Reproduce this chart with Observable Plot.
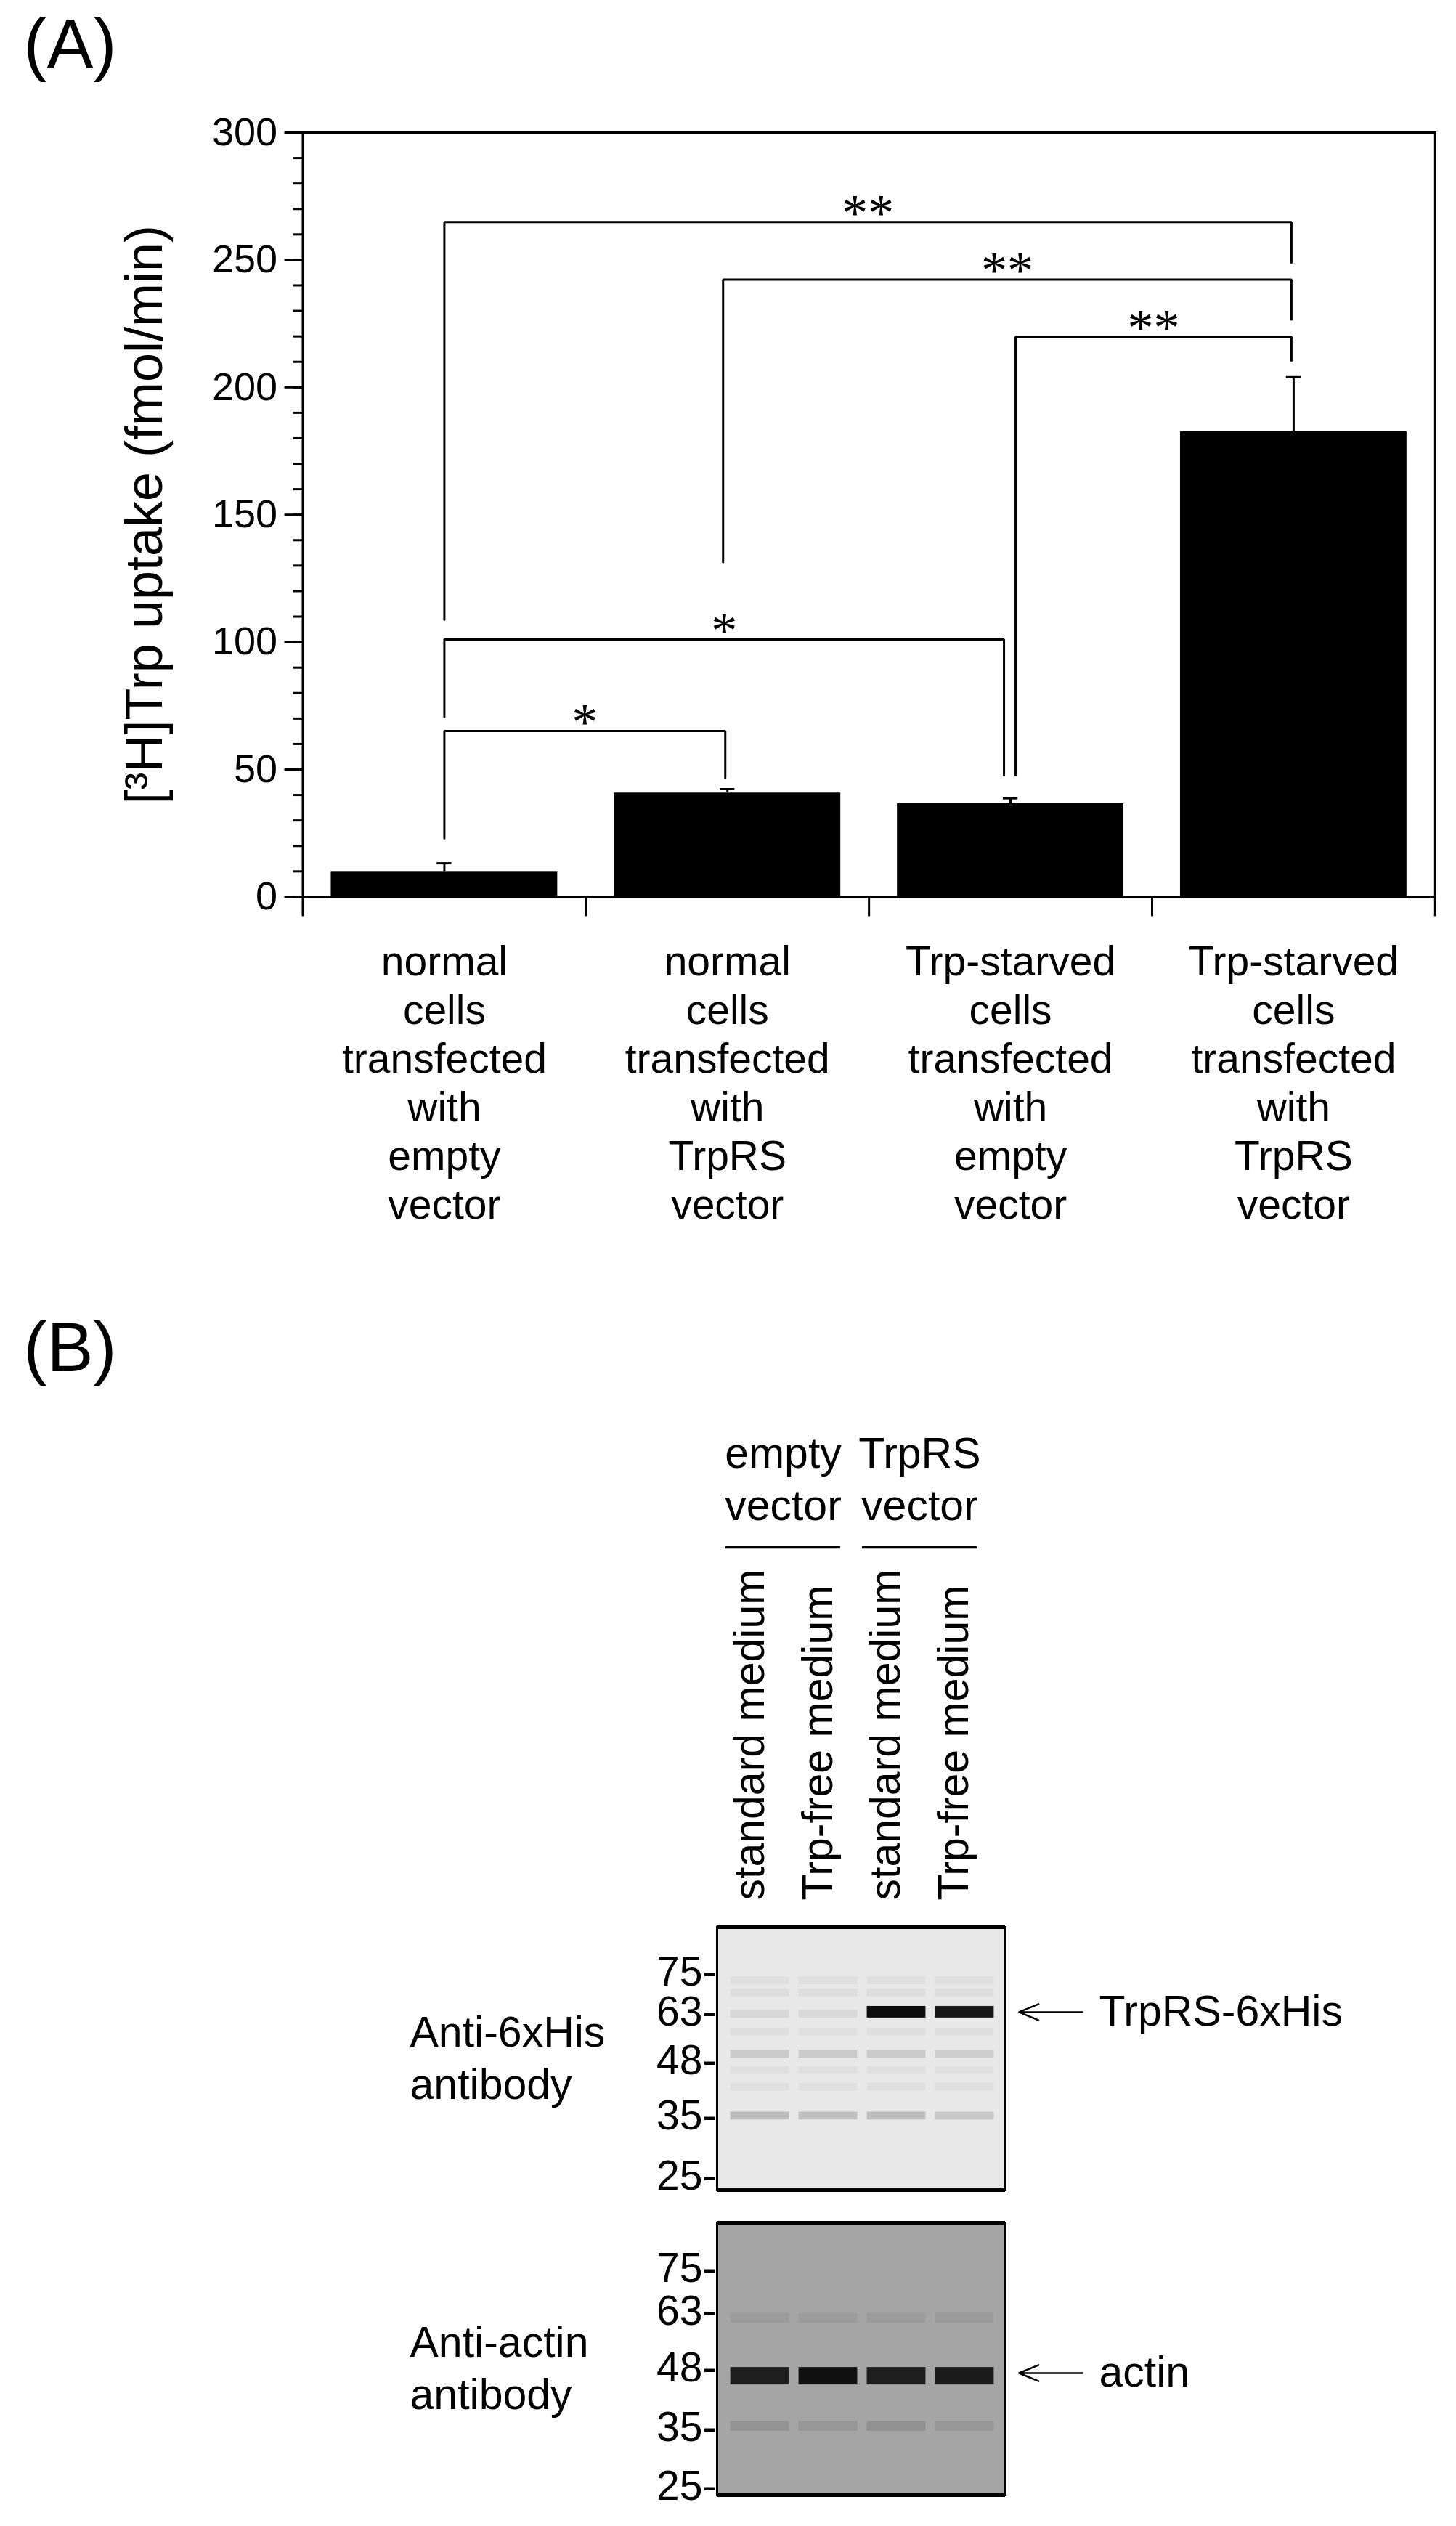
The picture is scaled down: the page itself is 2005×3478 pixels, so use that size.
<!DOCTYPE html>
<html>
<head>
<meta charset="utf-8">
<script src="https://cdn.jsdelivr.net/npm/d3@7"></script>
<script src="https://cdn.jsdelivr.net/npm/@observablehq/plot@0.6"></script>
<style>
  html, body { margin: 0; padding: 0; background: #fff; }
  #page { position: relative; width: 2005px; height: 3478px; background: #fff; overflow: hidden; }
  #page svg { position: absolute; left: 0; }
</style>
</head>
<body>
<div id="page"></div>
<script>
// ---------------- DATA ----------------
// Panel A
const categories = [
  "normal\ncells\ntransfected\nwith\nempty\nvector",
  "normal\ncells\ntransfected\nwith\nTrpRS\nvector",
  "Trp-starved\ncells\ntransfected\nwith\nempty\nvector",
  "Trp-starved\ncells\ntransfected\nwith\nTrpRS\nvector"
];
const uptake = [10.0, 40.8, 36.6, 182.6];      // fmol/min
const uptakeSE = [3.2, 1.5, 2.1, 21.4];
const yTicks = [0, 50, 100, 150, 200, 250, 300];
const yMinorTicks = d3.range(0, 301, 10);
const yLabel = "[³H]Trp uptake (fmol/min)";

// significance brackets (category indices, heights in fmol/min)
const bracketFrom    = [0, 0, 0, 1, 2];
const bracketTo      = [1, 2, 3, 3, 3];
const bracketTop     = [65.1, 101.0, 264.9, 242.3, 219.8];
const bracketFromEnd = [23.0, 70.7, 108.8, 131.4, 47.7];
const bracketToEnd   = [46.7, 47.7, 249.0, 226.6, 210.5];
const bracketLabel   = ["*", "*", "**", "**", "**"];

// Panel B
const laneLabels = ["standard medium", "Trp-free medium", "standard medium", "Trp-free medium"];
const vectorGroups = ["empty\nvector", "TrpRS\nvector"];
const groupLanes = [[0, 1], [2, 3]];
const markerKDa = [75, 63, 48, 35, 25];
const hisMarkerRf = [0.171, 0.323, 0.508, 0.718, 0.948];   // relative migration in blot
const actinMarkerRf = [0.168, 0.325, 0.533, 0.752, 0.968];
// bands: [lane, relative migration, density]
const hisBands = [
  [2, 0.323, 0.95], [3, 0.323, 0.9],
  [0, 0.331, 0.07], [1, 0.331, 0.06],
  [0, 0.718, 0.18], [1, 0.718, 0.17], [2, 0.718, 0.18], [3, 0.718, 0.14],
  [0, 0.483, 0.13], [1, 0.483, 0.12], [2, 0.483, 0.13], [3, 0.483, 0.11],
  [0, 0.204, 0.03], [1, 0.204, 0.035], [2, 0.204, 0.035], [3, 0.204, 0.03],
  [0, 0.249, 0.04], [1, 0.249, 0.04], [2, 0.249, 0.045], [3, 0.249, 0.04],
  [0, 0.398, 0.035], [1, 0.398, 0.03], [2, 0.398, 0.035], [3, 0.398, 0.035],
  [0, 0.544, 0.035], [1, 0.544, 0.03], [2, 0.544, 0.035], [3, 0.544, 0.03],
  [0, 0.608, 0.03], [1, 0.608, 0.03], [2, 0.608, 0.035], [3, 0.608, 0.035]
];
const actinBands = [
  [0, 0.563, 0.82], [1, 0.563, 0.9], [2, 0.563, 0.82], [3, 0.563, 0.84],
  [0, 0.747, 0.10], [1, 0.747, 0.08], [2, 0.747, 0.11], [3, 0.747, 0.08],
  [0, 0.350, 0.05], [1, 0.350, 0.05], [2, 0.350, 0.05], [3, 0.350, 0.06]
];
const hisArrowRf = 0.323, actinArrowRf = 0.552;
const hisArrowLabel = "TrpRS-6xHis", actinArrowLabel = "actin";

// ---------------- LAYOUT / STYLE ----------------
const FONT = '"Liberation Sans", Arial, Helvetica, sans-serif';
const W = 2005;
const page = document.getElementById("page");

// ---------------- PANEL A ----------------
const mL = 416.5, mR = 29.2, mT = 182, hA = 1760, mB = hA - 1234.4;
const frameW = W - mL - mR, frameH = hA - mT - mB;
const step = frameW / categories.length;
const rows = categories.map((c, i) => ({i, cat: c, v: uptake[i], e: uptakeSE[i]}));
// small horizontal nudges (px) to keep neighbouring bracket legs apart
const nudge = {"0:to": -3, "1:to": -9, "2:to": -3, "3:from": -6, "3:to": -3, "4:from": 7, "4:to": -3};
const brackets = bracketLabel.map((lab, k) => {
  const xf = bracketFrom[k] + 0.5 + (nudge[k + ":from"] || 0) / step;
  const xt = bracketTo[k] + 0.5 + (nudge[k + ":to"] || 0) / step;
  return {k, lab, xf, xt, top: bracketTop[k], fe: bracketFromEnd[k], te: bracketToEnd[k]};
});
const bracketPts = brackets.flatMap(b => [
  {k: b.k, x: b.xf, y: b.fe}, {k: b.k, x: b.xf, y: b.top},
  {k: b.k, x: b.xt, y: b.top}, {k: b.k, x: b.xt, y: b.te}
]);
const categoryBounds = d3.range(categories.length + 1);

const plotA = Plot.plot({
  width: W, height: hA,
  marginLeft: mL, marginRight: mR, marginTop: mT, marginBottom: mB,
  style: {fontFamily: FONT, background: "transparent", overflow: "visible", color: "black"},
  x: {domain: [0, categories.length], axis: null},
  y: {domain: [0, 300], axis: null},
  marks: [
    Plot.rectY(rows, {x1: d => d.i + 0.1, x2: d => d.i + 0.9, y: "v", fill: "black"}),
    Plot.ruleX(rows, {x: d => d.i + 0.5, y1: "v", y2: d => d.v + d.e, stroke: "black", strokeWidth: 3}),
    Plot.ruleY(rows, {y: d => d.v + d.e, x1: d => d.i + 0.5 - 0.026, x2: d => d.i + 0.5 + 0.026, stroke: "black", strokeWidth: 3}),
    Plot.line(bracketPts, {x: "x", y: "y", z: "k", stroke: "black", strokeWidth: 3, strokeLinejoin: "miter", curve: "linear"}),
    Plot.text(brackets, {x: d => (d.xf + d.xt) / 2, y: "top", text: "lab", fontFamily: '"Liberation Serif", "Times New Roman", serif', fontSize: 72, lineAnchor: "middle", dy: -12}),
    Plot.frame({stroke: "black", strokeWidth: 3}),
    // minor y ticks (outside, to the left of the frame)
    Plot.ruleY(yMinorTicks, {y: d => d, insetLeft: -13, insetRight: frameW, stroke: "black", strokeWidth: 3}),
    // major y ticks + labels
    Plot.axisY({ticks: yTicks, tickSize: 25, tickPadding: 10, fontSize: 54, strokeWidth: 3, label: null}),
    // x ticks at the category boundaries (below the frame)
    Plot.ruleX(categoryBounds, {x: d => d, insetTop: frameH, insetBottom: -27, stroke: "black", strokeWidth: 3}),
    Plot.text(rows, {x: d => d.i + 0.5, text: "cat", frameAnchor: "bottom", dy: 1677 - 1234.4, lineAnchor: "bottom", lineHeight: 67 / 57, fontSize: 57}),
    Plot.text([yLabel], {frameAnchor: "left", dx: 199 - mL, rotate: -90, fontSize: 72, textAnchor: "middle", lineAnchor: "middle"}),
    Plot.text(["(A)"], {frameAnchor: "top-left", dx: 32 - mL, dy: 92 - mT, fontSize: 96, textAnchor: "start", lineAnchor: "bottom"})
  ]
});
plotA.style.top = "0px";
page.appendChild(plotA);

// ---------------- PANEL B ----------------
const boxL = 987, boxR = 1384;
const laneDomain = [-0.128, 4.096];
const lanes = laneLabels.map((t, i) => ({i, t}));
const groups = vectorGroups.map((t, g) => ({t, x1: groupLanes[g][0], x2: groupLanes[g][1] + 1 - 0.32}));
const bandRows = (arr, strongH, faintH) => arr.map(([lane, rf, a]) => ({lane, rf, a, h: a > 0.5 ? strongH : faintH}));
let filterCount = 0;

function blot({top, height, boxTop, boxBottom, bg, markerRf, bands, leftLabel, leftLabelLastBaseline, arrowRf, arrowLabel, strongH, faintH, blurStrong, blurFaint, extra}) {
  const marginTop = boxTop - top, marginBottom = top + height - boxBottom;
  const frameMid = (boxTop + boxBottom) / 2;
  const markers = markerKDa.map((k, i) => ({k, rf: markerRf[i]}));
  const b = bandRows(bands, strongH, faintH);
  const bandMark = (data, label) => Plot.rect(data, {
    x1: d => d.lane + 0.5 - 0.43, x2: d => d.lane + 0.5 + 0.43,
    y1: d => d.rf - d.h, y2: d => d.rf + d.h,
    fill: "black", fillOpacity: "a", ariaLabel: label
  });
  const p = Plot.plot({
    width: W, height,
    marginLeft: boxL, marginRight: W - boxR, marginTop, marginBottom,
    style: {fontFamily: FONT, background: "transparent", overflow: "visible", color: "black"},
    x: {domain: laneDomain, axis: null},
    y: {domain: [0, 1], reverse: true, axis: null},
    marks: [
      Plot.frame({fill: bg, stroke: null}),
      bandMark(b.filter(d => d.a <= 0.5), "faint-bands"),
      bandMark(b.filter(d => d.a > 0.5), "strong-bands"),
      Plot.frame({stroke: "black", strokeWidth: 3}),
      Plot.ruleY([0, 1], {stroke: "black", strokeWidth: 5}),
      Plot.text(markers, {y: "rf", text: d => d.k + "-", frameAnchor: "left", textAnchor: "end", lineAnchor: "middle", dx: -1, fontSize: 57}),
      Plot.text([leftLabel], {frameAnchor: "left", dx: 564 - boxL, dy: leftLabelLastBaseline - frameMid, textAnchor: "start", lineAnchor: "bottom", lineHeight: 72 / 59, fontSize: 59}),
      Plot.arrow([arrowRf], {x1: laneDomain[1] + 1.128, x2: laneDomain[1] + 0.2, y1: d => d, y2: d => d, stroke: "black", strokeWidth: 2.5, headAngle: 45, headLength: 20}),
      Plot.text([arrowRf], {y: d => d, text: () => arrowLabel, frameAnchor: "right", dx: 1513 - boxR, textAnchor: "start", lineAnchor: "middle", fontSize: 59}),
      ...(extra || [])
    ]
  });
  // soft, diffuse band edges via SVG Gaussian blur filters
  const sel = d3.select(p);
  const defs = sel.insert("defs", ":first-child");
  const addBlur = (sd) => {
    const id = "bandblur" + (filterCount++);
    defs.append("filter").attr("id", id)
      .attr("x", "-10%").attr("y", "-150%").attr("width", "120%").attr("height", "400%")
      .append("feGaussianBlur").attr("stdDeviation", sd);
    return `url(#${id})`;
  };
  const fFaint = addBlur(blurFaint), fStrong = addBlur(blurStrong);
  sel.selectAll('g[aria-label="faint-bands"]').attr("filter", fFaint);
  sel.selectAll('g[aria-label="strong-bands"]').attr("filter", fStrong);
  p.style.top = top + "px";
  page.appendChild(p);
  return p;
}

const top1 = 1760, box1Top = 2653;
blot({
  top: top1, height: 1280, boxTop: box1Top, boxBottom: 3015, bg: "#e8e8e8",
  markerRf: hisMarkerRf, bands: hisBands,
  leftLabel: "Anti-6xHis\nantibody", leftLabelLastBaseline: 2889,
  arrowRf: hisArrowRf, arrowLabel: hisArrowLabel, strongH: 0.022, faintH: 0.015, blurStrong: 2.5, blurFaint: 3.5,
  extra: [
    Plot.text(lanes, {x: d => d.i + 0.5, text: "t", frameAnchor: "top", dx: 5, dy: 2616 - box1Top, rotate: -90, textAnchor: "start", lineAnchor: "bottom", fontSize: 59}),
    Plot.text(groups, {x: d => (d.x1 + d.x2) / 2, text: "t", frameAnchor: "top", dy: 2092 - box1Top, lineAnchor: "bottom", lineHeight: 72 / 59, fontSize: 59}),
    Plot.ruleY(groups, {y: () => 0, x1: "x1", x2: "x2", dy: 2130 - box1Top, stroke: "black", strokeWidth: 3.5}),
    Plot.text(["(B)"], {frameAnchor: "top-left", dx: 32 - boxL, dy: 1887 - box1Top, fontSize: 96, textAnchor: "start", lineAnchor: "bottom"})
  ]
});

blot({
  top: 3040, height: 438, boxTop: 3060, boxBottom: 3435, bg: "#a5a5a5",
  markerRf: actinMarkerRf, bands: actinBands,
  leftLabel: "Anti-actin\nantibody", leftLabelLastBaseline: 3316,
  arrowRf: actinArrowRf, arrowLabel: actinArrowLabel, strongH: 0.032, faintH: 0.018, blurStrong: 3.5, blurFaint: 4
});
</script>
</body>
</html>
